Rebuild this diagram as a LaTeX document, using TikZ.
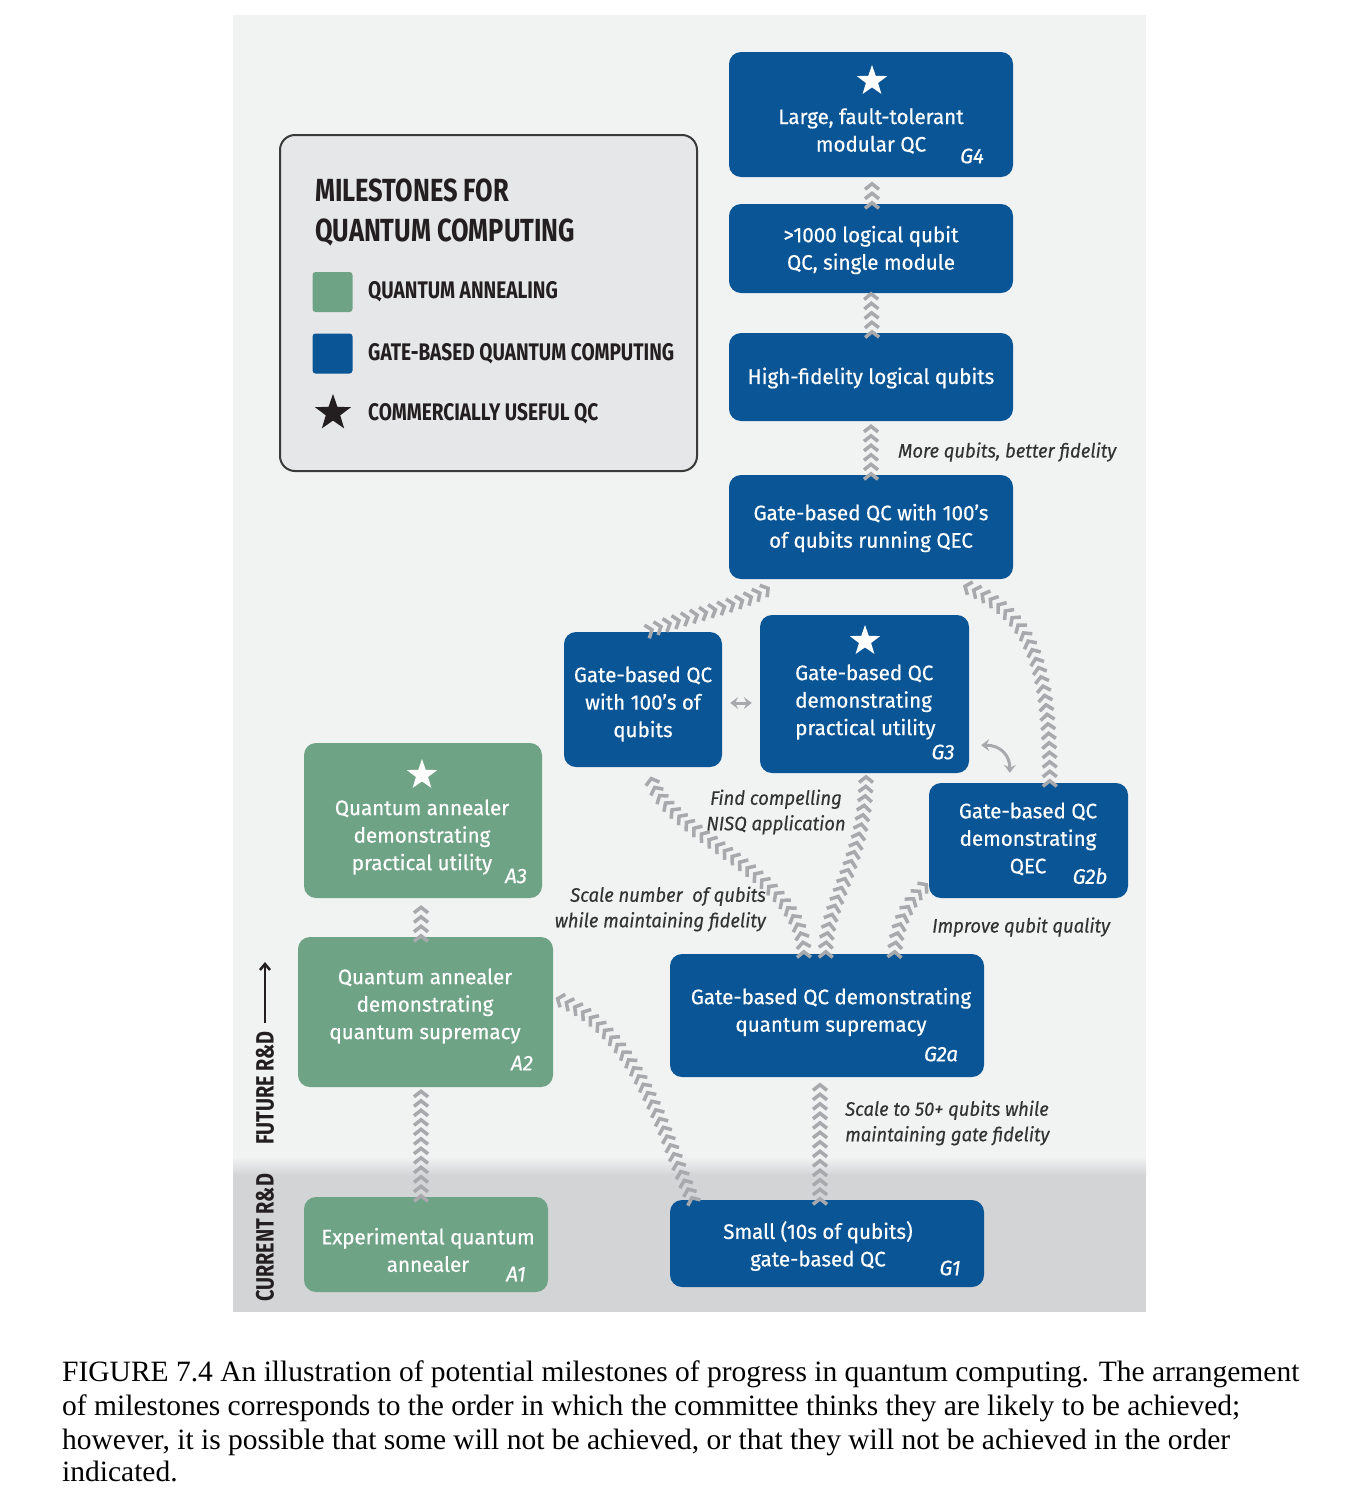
\documentclass[tikz,border=0pt]{standalone}
\usepackage{fontspec}
\setmainfont{Liberation Serif}
\newfontfamily\boxfont[FakeStretch=0.98,FakeBold=0.5]{Fira Sans}
\newfontfamily\notefont[FakeStretch=0.945,FakeBold=0.3]{Fira Sans}
\newfontfamily\condfont[FakeStretch=0.795]{Fira Sans}
\usetikzlibrary{shapes.geometric,decorations.markings,arrows.meta,calc}
\definecolor{qblue}{HTML}{0A5596}
\definecolor{qgreen}{HTML}{6FA386}
\definecolor{bgpanel}{HTML}{F1F2F2}
\definecolor{bgband}{HTML}{D3D4D6}
\definecolor{chevc}{HTML}{A7A9AC}
\definecolor{lbl}{HTML}{333333}
\definecolor{legfill}{HTML}{E6E7E8}
\definecolor{legborder}{HTML}{3A3A3A}
\definecolor{ink}{HTML}{231F20}
\begin{document}
\begin{tikzpicture}[x=1pt,y=-1pt,
  box/.style={rectangle, rounded corners=12pt, inner sep=0pt, draw=none},
  gbox/.style={box, fill=qblue},
  abox/.style={box, fill=qgreen},
  btext/.style={text=white, font=\boxfont\fontsize{21}{27.5}\selectfont, align=center, inner sep=0pt},
  tag/.style={text=white, font=\boxfont\itshape\fontsize{21}{24}\selectfont, inner sep=0pt},
  note/.style={text=lbl, font=\notefont\itshape\fontsize{19.5}{25.5}\selectfont, inner sep=0pt},
  legtext/.style={text=ink, font=\condfont\bfseries\fontsize{24}{28}\selectfont, inner sep=0pt, anchor=base west},
  side/.style={text=ink, font=\condfont\bfseries\fontsize{25}{28}\selectfont, inner sep=0pt, rotate=90},
  wstar/.style={star, star points=5, star point ratio=2.5, fill=white, inner sep=0pt, minimum size=32pt},
  capline/.style={font=\fontsize{29.5}{34}\selectfont, inner sep=0pt, anchor=base west, text=black},
  chev/.style={decoration={markings, mark=between positions 0 and 1 step 9.5pt with {\draw[chevc, line width=3.5pt] (-5.5,-7) -- (0,0) -- (-5.5,7);}}, decorate},
  dbl/.style={draw=chevc, line width=3pt, {Stealth[length=8pt,width=12pt,inset=3pt]}-{Stealth[length=8pt,width=12pt,inset=3pt]}},
]
\useasboundingbox (0,0) rectangle (1348,1500);
\fill[white] (0,0) rectangle (1348,1500);
% panels
\fill[bgpanel] (233,15) rectangle (1146,1312);
\fill[bgband] (233,1175) rectangle (1146,1312);
\shade[top color=bgpanel, bottom color=bgband] (233,1157) rectangle (1146,1175.5);

% legend
\node[rectangle, rounded corners=15pt, draw=legborder, line width=2pt, fill=legfill, minimum width=417pt, minimum height=336pt] (legend) at (488.5,303) {};
\node[legtext, font=\condfont\bfseries\fontsize{32}{40}\selectfont] (legt1) at (315,201) {MILESTONES FOR};
\node[legtext, font=\condfont\bfseries\fontsize{32}{40}\selectfont] (legt2) at (315,241) {QUANTUM COMPUTING};
\node[rectangle, rounded corners=3pt, fill=qgreen, minimum size=40pt, inner sep=0pt] (legA) at (332.5,292) {};
\node[legtext] (legAt) at (368,298.5) {QUANTUM ANNEALING};
\node[rectangle, rounded corners=3pt, fill=qblue, minimum size=40pt, inner sep=0pt] (legG) at (332.5,353.5) {};
\node[legtext] (legGt) at (368,360.5) {GATE-BASED QUANTUM COMPUTING};
\node[star, star points=5, star point ratio=2.5, fill=ink, inner sep=0pt, minimum size=38pt] (legS) at (333,413) {};
\node[legtext] (legSt) at (368,420.5) {COMMERCIALLY USEFUL QC};

\path (871,114.5) coordinate (cG4) (871,248.5) coordinate (cG1000) (871,377) coordinate (cHF)
      (871,527) coordinate (cGQEC) (643,699.5) coordinate (cG100) (864.5,694) coordinate (cG3)
      (1028.5,840.5) coordinate (cG2b) (827,1015.5) coordinate (cG2a) (827,1243.5) coordinate (cG1)
      (423,820.5) coordinate (cA3) (425.5,1012) coordinate (cA2) (426,1244.5) coordinate (cA1);

\node[gbox, minimum width=284pt, minimum height=125pt] (G4) at (cG4) {};
\node[gbox, minimum width=284pt, minimum height=89pt] (G1000) at (cG1000) {};
\node[gbox, minimum width=284pt, minimum height=88pt] (HF) at (cHF) {};
\node[gbox, minimum width=284pt, minimum height=104pt] (GQEC) at (cGQEC) {};
\node[gbox, minimum width=158pt, minimum height=135pt] (G100) at (cG100) {};
\node[gbox, minimum width=209pt, minimum height=158pt] (G3) at (cG3) {};
\node[gbox, minimum width=199pt, minimum height=115pt] (G2b) at (cG2b) {};
\node[gbox, minimum width=314pt, minimum height=123pt] (G2a) at (cG2a) {};
\node[gbox, minimum width=314pt, minimum height=87pt] (G1) at (cG1) {};
\node[abox, minimum width=238pt, minimum height=155pt] (A3) at (cA3) {};
\node[abox, minimum width=255pt, minimum height=150pt] (A2) at (cA2) {};
\node[abox, minimum width=244pt, minimum height=95pt] (A1) at (cA1) {};

% chevron connectors
\path[chev] ($(G1000.north)+(1,-1)$) -- ($(G4.south)+(1,0)$);
\path[chev] ($(HF.north)+(1,-1)$) -- (G1000.south);
\path[chev] ($(GQEC.north)+(0,-1)$) -- (HF.south);
\path[chev] ($(G100.north)+(9,-2)$) .. controls (700,612) and (745,605) .. ($(GQEC.south west)+(44,6)$);
\path[chev] ($(G2b.north west)+(121,-2)$) .. controls (1050,660) and (1030,610) .. ($(GQEC.south east)+(-56,4)$);
\path[chev] ($(G2a.north west)+(134,-2)$) .. controls (802,870) and (652,830) .. ($(G100.south)+(7,3)$);
\path[chev] ($(G2a.north west)+(156,-2)$) .. controls (826,900) and (866,860) .. ($(G3.south)+(1.5,3)$);
\path[chev] ($(G2a.north west)+(225,-2)$) .. controls (897,920) and (912,897) .. ($(G2b.south west)+(-2,-14)$);
\path[chev] ($(G1.north)+(-7,-1)$) -- ($(G2a.south)+(-7,2)$);
\path[chev] ($(G1.north west)+(22,-2)$) .. controls (665,1140) and (640,1030) .. ($(A2.north east)+(2,61)$);
\path[chev] ($(A2.north)+(-4.5,-1)$) -- ($(A3.south)+(-2,2)$);
\path[chev] ($(A1.north)+(-5,-1)$) -- ($(A2.south)+(-4.5,2)$);

% small double arrows
\draw[dbl] ($(G100.east)+(8,3.5)$) -- ($(G3.west |- G100.east)+(-8,3.5)$);
\draw[dbl] ($(G3.south east)+(12,-28)$) .. controls (1000,745) and (1010,755) .. ($(G2b.north west)+(81,-10)$);

% stars
\node[wstar] (sG4) at (872,81) {};
\node[wstar] (sG3) at (865,641) {};
\node[wstar] (sA3) at (422,775) {};

% box texts
\node[btext] (tG4) at (871,131) {Large, fault-tolerant\\modular QC};
\node[tag] (gG4) at (972,156) {G4};
\node[btext] (tG1000) at (871,250) {>1000 logical qubit\\QC, single module};
\node[btext] (tHF) at (871,378) {High-fidelity logical qubits};
\node[btext] (tGQEC) at (871,528) {Gate-based QC with 100’s\\of qubits running QEC};
\node[btext] (tG100) at (643,704) {Gate-based QC\\with 100’s of\\qubits};
\node[btext, align=left, anchor=west] (tG3) at (795,702) {Gate-based QC\\demonstrating\\practical utility};
\node[tag] (gG3) at (943,752) {G3};
\node[btext] (tG2b) at (1028,839) {Gate-based QC\\demonstrating\\QEC};
\node[tag] (gG2b) at (1090,876) {G2b};
\node[btext] (tG2a) at (831,1012) {Gate-based QC demonstrating\\quantum supremacy};
\node[tag] (gG2a) at (941,1054) {G2a};
\node[btext] (tG1) at (818,1246) {Small (10s of qubits)\\gate-based QC};
\node[tag] (gG1) at (950,1268) {G1};
\node[btext] (tA3) at (422,837) {Quantum annealer\\demonstrating\\practical utility};
\node[tag] (gA3) at (516,876) {A3};
\node[btext] (tA2) at (425,1006) {Quantum annealer\\demonstrating\\quantum supremacy};
\node[tag] (gA2) at (522,1063) {A2};
\node[btext] (tA1) at (428,1250) {Experimental quantum\\annealer};
\node[tag] (gA1) at (516,1274) {A1};

% notes
\node[note, anchor=west] (n1) at (898,452) {More qubits, better fidelity};
\node[note, align=center] (n2) at (776,812) {Find compelling\\NISQ application};
\node[note, align=right, anchor=east] (n3) at (766,909) {Scale number\ \ of qubits\\while maintaining fidelity};
\node[note, anchor=west] (n4) at (932,927) {Improve qubit quality};
\node[note, align=left, anchor=west] (n5) at (845,1123) {Scale to 50+ qubits while\\maintaining gate fidelity};

% side labels
\node[side] (future) at (265,1088) {FUTURE R\&D};
\node[side] (current) at (265,1238) {CURRENT R\&D};
\coordinate (futtop) at (265,962);
\draw[ink, line width=2.5pt, -{Straight Barb[length=6pt,width=10pt]}] ($(future.east)+(0,-8)$) -- (futtop);

% caption
\node[capline] (cap1) at (62,1381) {FIGURE 7.4 An illustration of potential milestones of progress in quantum computing. The arrangement};
\node[capline] (cap2) at (62,1415) {of milestones corresponds to the order in which the committee thinks they are likely to be achieved;};
\node[capline] (cap3) at (62,1449) {however, it is possible that some will not be achieved, or that they will not be achieved in the order};
\node[capline] (cap4) at (62,1481) {indicated.};
\end{tikzpicture}
\end{document}
